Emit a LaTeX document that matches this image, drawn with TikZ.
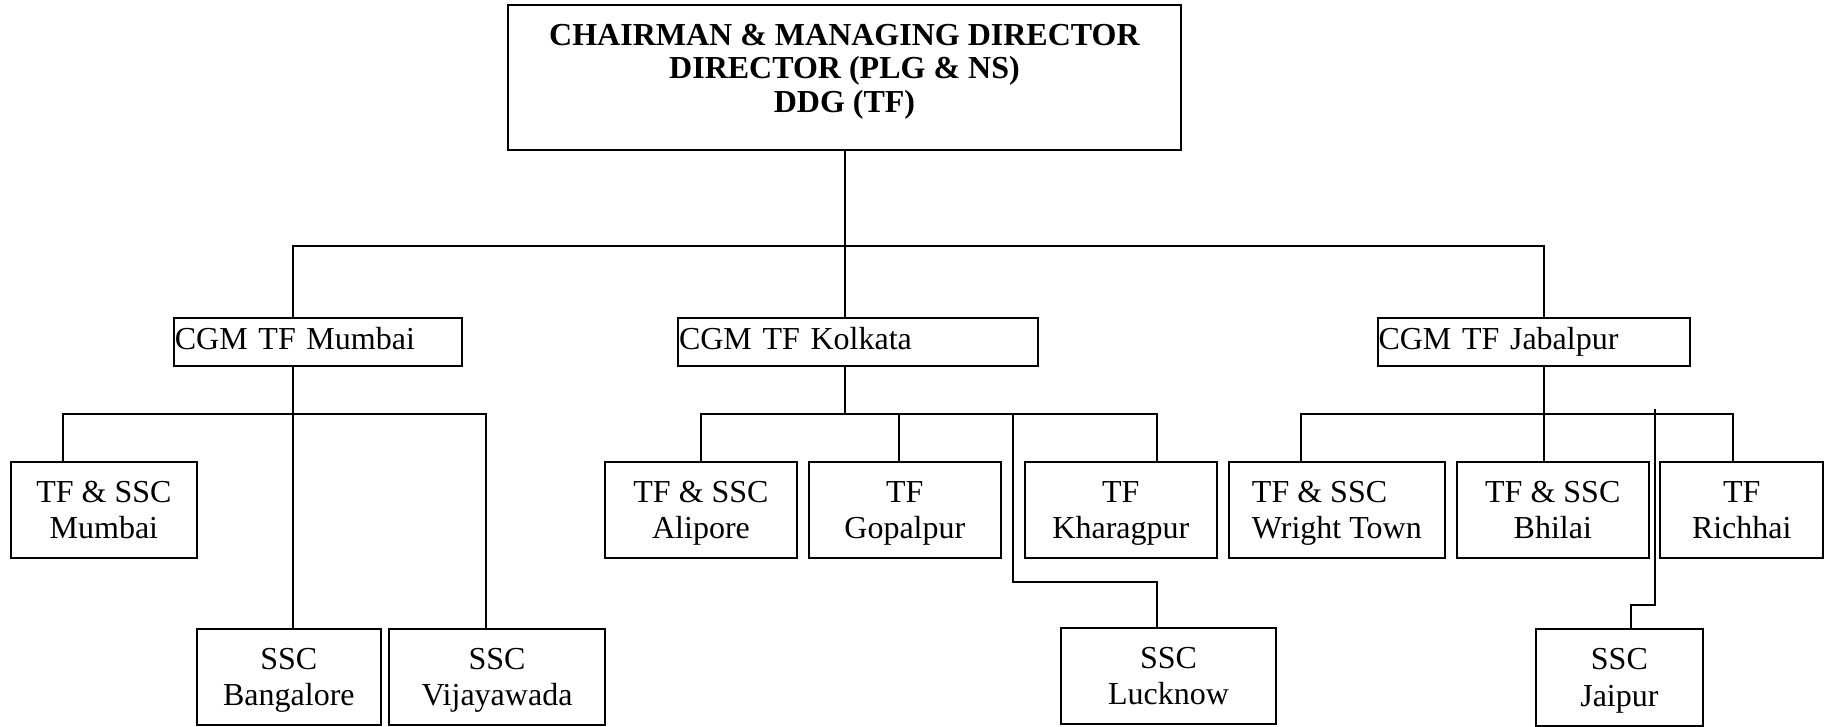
\documentclass[tikz,border=0pt]{standalone}
\usepackage{fontspec}
\setmainfont{Liberation Serif}
\begin{document}
\begin{tikzpicture}[x=1pt, y=-1pt,
  unit/.style={draw, line width=2pt, inner sep=0pt, minimum height=96.6pt, align=center, font=\fontsize{32}{36.6}\selectfont},
  cgm/.style={draw, line width=2pt, inner xsep=1pt, inner ysep=0pt, minimum height=47.7pt, anchor=west, align=left, text height=22pt, text depth=8pt, font=\fontsize{32}{36.6}\selectfont},
  link/.style={draw, line width=2pt, line cap=rect}]
\useasboundingbox (0,0) rectangle (1829,726);

\node[draw, line width=2pt, inner sep=0pt] (cmd) at (844.5,77.5) {\parbox[c][145pt][t]{673pt}{\centering\fontsize{32}{33.7}\selectfont\bfseries\vspace*{19pt}CHAIRMAN \& MANAGING DIRECTOR\\DIRECTOR (PLG \& NS)\\DDG (TF)}};

\node[cgm, text width=286.5pt] (mumbai) at (172.9,342.2) {CGM TF Mumbai};
\node[cgm, text width=357.8pt] (kolkata) at (677,342.2) {CGM TF Kolkata};
\node[cgm, text width=310.6pt] (jabalpur) at (1376.5,342.2) {CGM TF Jabalpur};

\node[unit, minimum width=186.4pt] (tfmumbai) at (103.9,510) {TF \& SSC\\\smash{Mumbai}};
\node[unit, minimum width=192pt] (alipore) at (701,510) {TF \& SSC\\\smash{Alipore}};
\node[unit, minimum width=192.3pt] (gopalpur) at (904.85,510) {TF\\\smash{Gopalpur}};
\node[unit, minimum width=192.3pt] (kharagpur) at (1120.85,510) {TF\\\smash{Kharagpur}};
\node[unit, minimum width=216.7pt, align=left] (wright) at (1336.85,510) {TF \& SSC\\\smash{Wright Town}};
\node[unit, minimum width=192.5pt] (bhilai) at (1552.75,510) {TF \& SSC\\\smash{Bhilai}};
\node[unit, minimum width=162.7pt] (richhai) at (1741.75,510) {TF\\\smash{Richhai}};

\node[unit, minimum width=184.3pt] (bangalore) at (288.85,677) {SSC\\\smash{Bangalore}};
\node[unit, minimum width=216pt] (vijayawada) at (497,677) {SSC\\\smash{Vijayawada}};
\node[unit, minimum width=215pt] (lucknow) at (1168.5,676) {SSC\\\smash{Lucknow}};
\node[unit, minimum width=167.3pt] (jaipur) at (1619.4,677.5) {SSC\\\smash{Jaipur}};

\coordinate (hub) at (844.8,246);
\coordinate (hubM) at (293,246);
\coordinate (hubJ) at (1543.5,246);
\path[link] (cmd.south -| hub) -- (hub);
\path[link] (hubM) -- (hubJ);
\path[link] (hubM) -- (hubM |- mumbai.north);
\path[link] (hub) -- (hub |- kolkata.north);
\path[link] (hubJ) -- (hubJ |- jabalpur.north);

\coordinate (m0) at (293,414);
\coordinate (m1) at (63,414);
\coordinate (m2) at (486,414);
\path[link] (m0 |- mumbai.south) -- (m0 |- bangalore.north);
\path[link] (m1 |- tfmumbai.north) |- (m2) -- (m2 |- vijayawada.north);

\coordinate (k0) at (844.8,414);
\coordinate (k1) at (701,414);
\coordinate (k2) at (1157,414);
\coordinate (kg) at (898.8,414);
\coordinate (kl) at (1013,414);
\coordinate (kj) at (1013,582);
\path[link] (k0 |- kolkata.south) -- (k0);
\path[link] (k1 |- alipore.north) |- (k2) -- (k2 |- kharagpur.north);
\path[link] (kg) -- (kg |- gopalpur.north);
\path[link] (kl) -- (kj) -| (k2 |- lucknow.north);

\coordinate (j0) at (1543.5,414);
\coordinate (j1) at (1300.8,414);
\coordinate (j2) at (1732.6,414);
\coordinate (jp) at (1655,410);
\coordinate (jq) at (1655,605);
\coordinate (jr) at (1631,605);
\path[link] (j0 |- jabalpur.south) -- (j0 |- bhilai.north);
\path[link] (j1 |- wright.north) |- (j2) -- (j2 |- richhai.north);
\path[link] (jp) -- (jq) -| (jr |- jaipur.north);
\end{tikzpicture}
\end{document}
